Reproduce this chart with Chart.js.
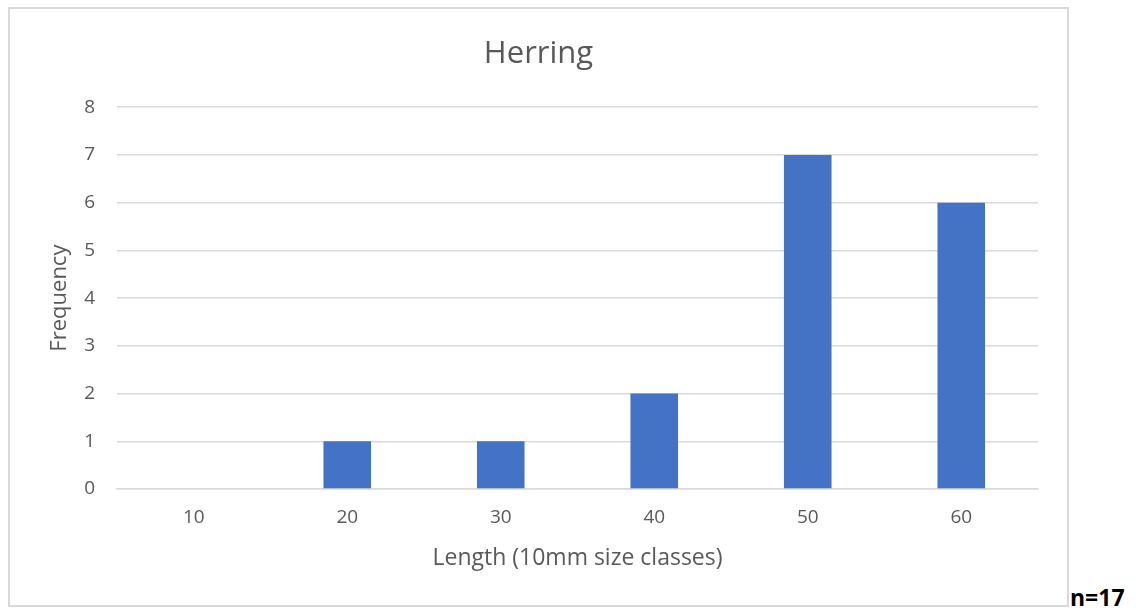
<!DOCTYPE html>
<html>
<head>
<meta charset="utf-8">
<script src="https://cdn.jsdelivr.net/npm/chart.js@4"></script>
<style>
  html, body { margin: 0; padding: 0; background: #fff; }
  #box {
    position: absolute; left: 8px; top: 7px;
    width: 1057px; height: 596px;
    border: 2px solid #d9d9d9;
  }
  #n {
    position: absolute; left: 1070px; top: 581px;
    font-family: "Open Sans", sans-serif; font-weight: bold;
    font-size: 23px; color: #000;
  }
</style>
</head>
<body>
<div id="box"><canvas id="chart" width="1057" height="596"></canvas></div>
<div id="n">n=17</div>
<script>
const categories = ['10', '20', '30', '40', '50', '60'];
const frequency = [0, 1, 1, 2, 7, 6];
const yTicks = [0, 1, 2, 3, 4, 5, 6, 7, 8];

const textColor = '#595959';
const font = 'Open Sans';

const ctx = document.getElementById('chart').getContext('2d');
new Chart(ctx, {
    type: 'bar',
    data: {
        labels: categories,
        datasets: [{
            label: 'Herring',
            data: frequency,
            backgroundColor: '#4472C4',
            categoryPercentage: 1,
            barPercentage: 0.31
        }]
    },
    options: {
        responsive: false,
        animation: false,
        layout: { padding: 0 },
        plugins: {
            legend: { display: false },
            tooltip: { enabled: false },
            title: {
                display: true,
                text: 'Herring',
                color: textColor,
                font: { family: font, size: 31, weight: 'normal' },
                padding: { top: 27, bottom: 34 }
            }
        },
        scales: {
            x: {
                grid: { display: false, drawTicks: false },
                border: { color: '#d9d9d9', width: 1.5 },
                ticks: { color: textColor, font: { family: font, size: 19 }, padding: 17 },
                title: {
                    display: true,
                    text: 'Length (10mm size classes)',
                    color: textColor,
                    font: { family: font, size: 23 },
                    padding: { top: 0, bottom: 33 }
                },
                afterFit: (scale) => { scale.height = 116; }
            },
            y: {
                min: yTicks[0],
                max: yTicks[yTicks.length - 1],
                afterBuildTicks: (scale) => { scale.ticks = yTicks.map(v => ({ value: v })); },
                grid: { color: '#d9d9d9', lineWidth: 1.5, drawTicks: false },
                border: { display: false },
                ticks: { color: textColor, font: { family: font, size: 19 }, padding: 22 },
                title: {
                    display: true,
                    text: 'Frequency',
                    color: textColor,
                    font: { family: font, size: 22 },
                    padding: { top: 37, bottom: 0 }
                },
                afterFit: (scale) => { scale.width = 107; }
            },
            // empty right margin so the title centres on the whole box
            yRight: {
                position: 'right',
                grid: { display: false, drawTicks: false },
                border: { display: false },
                ticks: { display: false },
                afterFit: (scale) => { scale.width = 29; }
            }
        }
    }
});
</script>
</body>
</html>
